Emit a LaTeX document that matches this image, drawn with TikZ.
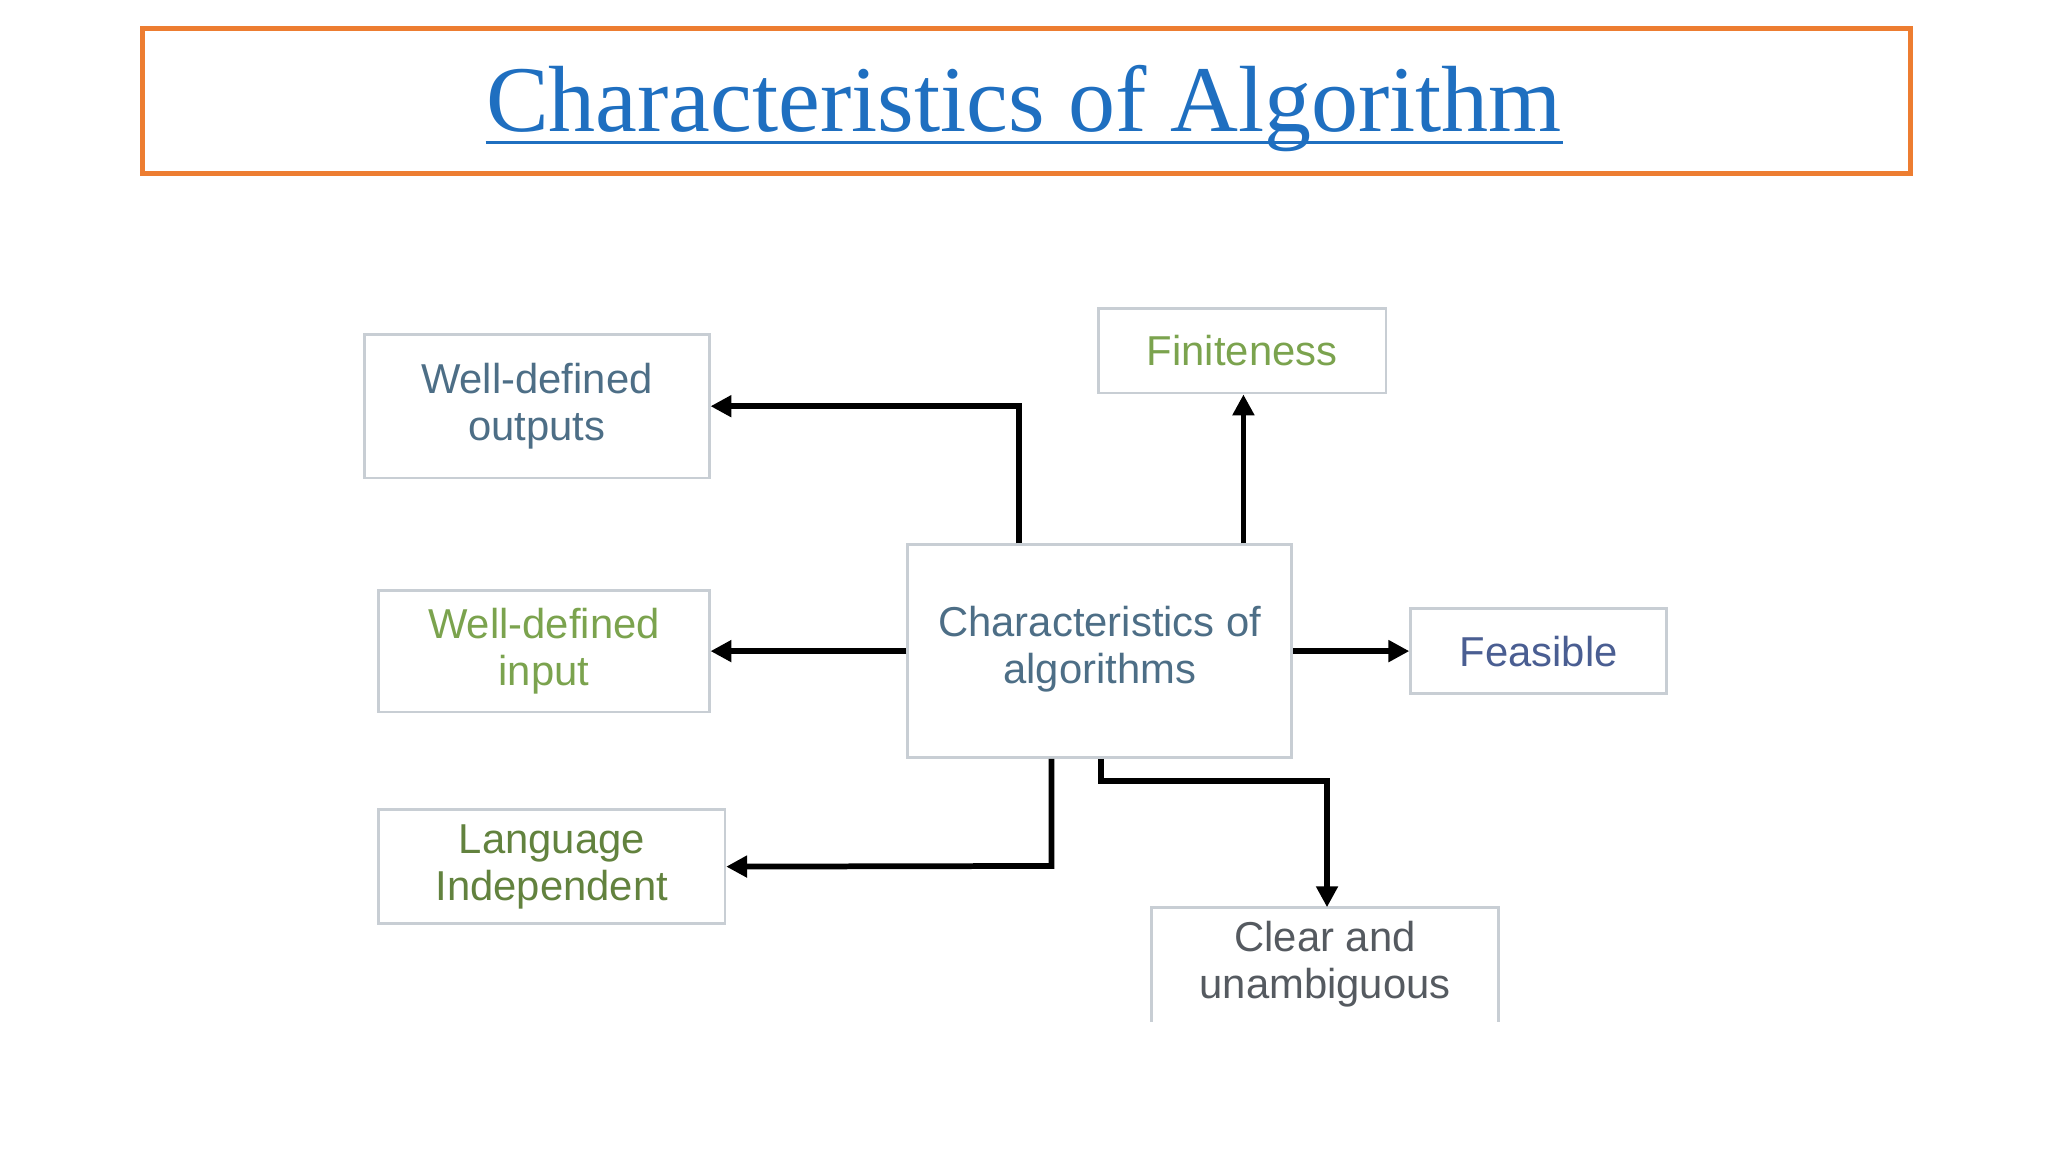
\documentclass[tikz,border=0pt]{standalone}
\usepackage{fontspec}
\setmainfont{Liberation Sans}
\newfontfamily\titlefont{Liberation Serif}
\usetikzlibrary{arrows.meta}
\definecolor{orangeb}{HTML}{ED7D31}
\definecolor{titleblue}{HTML}{1F6FC0}
\definecolor{boxgray}{HTML}{C8CED4}
\definecolor{tblue}{HTML}{4D6E86}
\definecolor{tgreen}{HTML}{7BA34E}
\definecolor{tfeas}{HTML}{4A5E92}
\definecolor{tdark}{HTML}{555A60}
\begin{document}
\begin{tikzpicture}[x=0.5pt,y=-0.5pt,
  bx/.style={draw=boxgray,line width=1pt,inner sep=0pt,align=center,font=\fontsize{16}{18}\selectfont},
  arr/.style={line width=2.2pt,-{Triangle[length=8pt,width=8pt]}}]
\useasboundingbox (0,0) rectangle (1568,882);
\node[draw=orangeb,line width=2pt,minimum width=677pt,minimum height=55.5pt,anchor=north west] (title) at (107,20) {};
\node[text=titleblue,font=\titlefont\fontsize{36}{40}\selectfont,inner sep=0pt,anchor=base] (tt) at (784,101) {Characteristics of Algorithm};
\draw[titleblue,line width=1.3pt] ([yshift=-4pt]tt.base west) -- ([yshift=-4pt]tt.base east);
\node[bx,text=tblue,minimum width=132pt,minimum height=55pt] (out) at (411,311) {Well-defined\\outputs};
\node[bx,text=tgreen,minimum width=110pt,minimum height=32.5pt] (fin) at (951,268.5) {Finiteness};
\node[bx,text=tblue,minimum width=147pt,minimum height=81.5pt] (c) at (842,498.5) {};
\node[text=tblue,align=center,font=\fontsize{16}{18}\selectfont] (ct) at (842,497) {Characteristics of\\algorithms};
\node[bx,text=tgreen,minimum width=126.5pt,minimum height=46.5pt] (in) at (416.5,498.5) {Well-defined\\input};
\node[bx,text=tfeas,minimum width=98pt,minimum height=32.5pt] (fea) at (1178,498.5) {Feasible};
\node[bx,text=tgreen!80!black,minimum width=132.5pt,minimum height=43.5pt] (lang) at (422.5,663.5) {Language\\Independent};
\node[inner sep=0pt,align=center,text=tdark,font=\fontsize{16}{18}\selectfont,minimum width=132.5pt,minimum height=43.5pt] (clr) at (1014.5,738.5) {Clear and\\unambiguous};
\draw[boxgray,line width=1pt] (clr.south west) -- (clr.north west) -- (clr.north east) -- (clr.south east);
\draw[arr] (c.north west -| 780,0) -- (780,311) -- (out.east);
\draw[arr] (c.north west -| 952,0) -- (fin.south -| 952,0);
\draw[arr] (c.west) -- (in.east);
\draw[arr] (c.east) -- (fea.west);
\draw[arr] (c.south west -| 805,0) -- (805,663) -- (lang.east);
\draw[arr] (c.south west -| 843,0) -- (843,598) -- (1016,598) -- (clr.north -| 1016,0);
\end{tikzpicture}
\end{document}
